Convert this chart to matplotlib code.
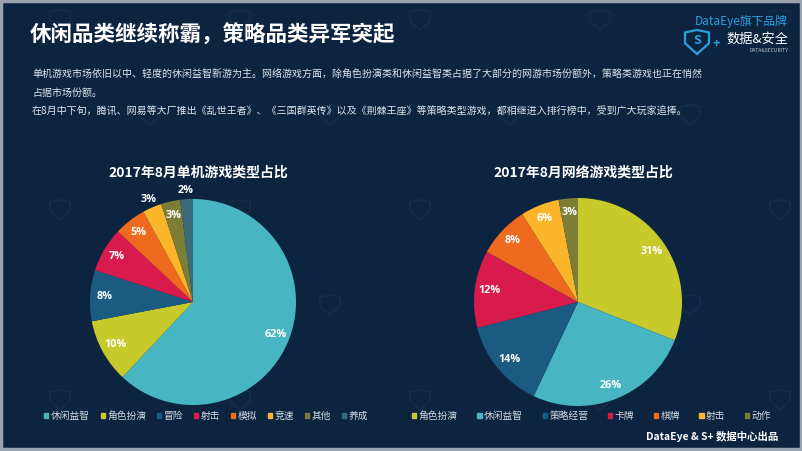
import numpy as np
import matplotlib
matplotlib.use("Agg")
import matplotlib.pyplot as plt
from matplotlib.patches import Rectangle, Patch, Polygon

plt.rcParams['font.family'] = ['Noto Sans CJK SC', 'DejaVu Sans']

# data
single_labels = ['休闲益智', '角色扮演', '冒险', '射击', '模拟', '竞速', '其他', '养成']
single_values = [62, 10, 8, 7, 5, 3, 3, 2]
single_colors = ['#47b6c2', '#c8ca2b', '#1b5b82', '#d81b4c', '#ee6a1e', '#fbb52a', '#7c7e36', '#3b6a78']

online_labels = ['角色扮演', '休闲益智', '策略经营', '卡牌', '棋牌', '射击', '动作']
online_values = [31, 26, 14, 12, 8, 6, 3]
online_colors = ['#c8ca2b', '#47b6c2', '#1b5b82', '#d81b4c', '#ee6a1e', '#fbb52a', '#7c7e36']

title = '休闲品类继续称霸，策略品类异军突起'
body = ['单机游戏市场依旧以中、轻度的休闲益智新游为主。网络游戏方面，除角色扮演类和休闲益智类占据了大部分的网游市场份额外，策略类游戏也正在悄然',
        '占据市场份额。',
        '在8月中下旬，腾讯、网易等大厂推出《乱世王者》、《三国群英传》以及《荆棘王座》等策略类型游戏，都相继进入排行榜中，受到广大玩家追捧。']

W, H = 802, 451
BG = '#0c2440'

fig = plt.figure(figsize=(W / 100, H / 100), dpi=100, facecolor=BG)

# background / text layer in pixel coordinates
bg = fig.add_axes([0, 0, 1, 1], zorder=0)
bg.set_xlim(0, W)
bg.set_ylim(H, 0)
bg.axis('off')
bg.set_facecolor(BG)


def shield(ax, x, y, s, color, lw, alpha=1.0):
    pts = [(x - s, y - s * 0.8), (x, y - s), (x + s, y - s * 0.8),
           (x + s, y + s * 0.1), (x, y + s), (x - s, y + s * 0.1)]
    ax.add_patch(Polygon(pts, closed=True, fill=False, edgecolor=color, lw=lw, alpha=alpha))


# faint watermark shields
for row, y in enumerate(range(20, H, 95)):
    for x in range(60 + (row % 2) * 90, W, 180):
        shield(bg, x, y, 10, 'white', 1.5, alpha=0.035)

# frame
bg.add_patch(Rectangle((1, 1), W - 2, H - 3, fill=False, edgecolor='#9aa3ad', lw=2.5))

bg.text(30, 35, title, color='white', fontsize=15.5, fontweight='bold', va='center')
for y, line in zip([74, 93, 112], body):
    bg.text(32, y, line, color='#dfe5ec', fontsize=7.2, va='center')

# logo
bg.text(788, 21, 'DataEye旗下品牌', color='#2b9fe0', fontsize=8.5, ha='right', va='center')
bg.text(788, 39, '数据&安全', color='white', fontsize=9.5, ha='right', va='center')
bg.text(788, 50, 'DATA&SECURITY', color='#c0c8d0', fontsize=3.6, ha='right', va='center')
shield(bg, 697, 42, 12, '#2b9fe0', 1.6)
bg.text(697, 41, 'S', color='#2b9fe0', fontsize=9, fontweight='bold', ha='center', va='center')
bg.text(716, 44, '+', color='#2b9fe0', fontsize=9, fontweight='bold', ha='center', va='center')

bg.text(778, 436, 'DataEye & S+ 数据中心出品', color='white', fontsize=7.5, fontweight='bold',
        ha='right', va='center')


def draw_pie(cx, cy, r, values, colors, chart_title, outside=()):
    ax = fig.add_axes([(cx - r) / W, (H - cy - r) / H, 2 * r / W, 2 * r / H], zorder=2)
    ax.pie(values, colors=colors, startangle=90, counterclock=False,
           wedgeprops=dict(linewidth=0))
    ax.set_xlim(-1, 1)
    ax.set_ylim(-1, 1)
    ax.set_aspect('auto')
    total = float(sum(values))
    start = 90.0
    for i, v in enumerate(values):
        mid = np.deg2rad(start - v / total * 360 / 2)
        dist = 1.08 if i in outside else 0.86
        ax.text(dist * np.cos(mid), dist * np.sin(mid), '%d%%' % v, color='white',
                fontsize=7.8, fontweight='bold', ha='center', va='center', clip_on=False,
                family=['Open Sans', 'DejaVu Sans'])
        start -= v / total * 360
    bg.text(cx + 5, 173, chart_title, color='white', fontsize=10, fontweight='bold',
            ha='center', va='center')
    return ax


draw_pie(193, 302, 103, single_values, single_colors, '2017年8月单机游戏类型占比', outside=(5, 7))
draw_pie(578, 302, 104, online_values, online_colors, '2017年8月网络游戏类型占比')


def legend(x, labels, colors, spacing):
    handles = [Patch(color=c, label=l) for l, c in zip(labels, colors)]
    leg = fig.legend(handles=handles, loc='center left', bbox_to_anchor=(x / W, 1 - 416 / H),
                     ncol=len(labels), frameon=False, handlelength=0.45, handleheight=0.45,
                     handletextpad=0.25, columnspacing=spacing, borderaxespad=0, borderpad=0,
                     prop={'size': 7, 'family': ['Noto Sans CJK SC', 'DejaVu Sans']})
    for t in leg.get_texts():
        t.set_color('#d3dae2')


legend(44, single_labels, single_colors, 1.1)
legend(412, online_labels, online_colors, 2.0)

fig.savefig('out.png', dpi=100, facecolor=BG)
